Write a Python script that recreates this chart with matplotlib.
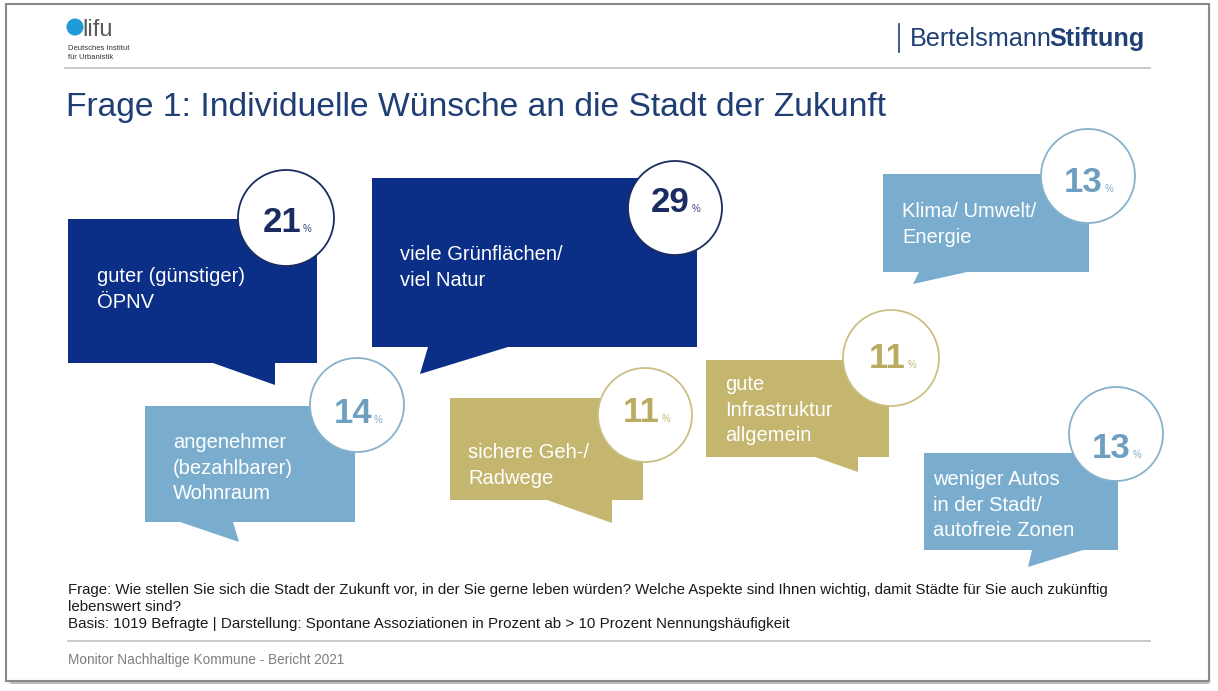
import matplotlib
matplotlib.use("Agg")
import matplotlib.pyplot as plt
from matplotlib.patches import Polygon, Circle, Rectangle

plt.rcParams['font.family'] = ['Liberation Sans', 'DejaVu Sans']

# survey answers (spontaneous associations, percent)
labels = [
    "guter (günstiger)\nÖPNV",
    "viele Grünflächen/\nviel Natur",
    "Klima/ Umwelt/\nEnergie",
    "angenehmer\n(bezahlbarer)\nWohnraum",
    "sichere Geh-/\nRadwege",
    "gute\nInfrastruktur\nallgemein",
    "weniger Autos\nin der Stadt/\nautofreie Zonen",
]
values = [21, 29, 13, 14, 11, 11, 13]
groups = ["dark", "dark", "light", "light", "gold", "gold", "light"]

title = "Frage 1: Individuelle Wünsche an die Stadt der Zukunft"
question = ("Frage: Wie stellen Sie sich die Stadt der Zukunft vor, in der Sie gerne leben würden? "
            "Welche Aspekte sind Ihnen wichtig, damit Städte für Sie auch zukünftig")
question2 = "lebenswert sind?"
basis = "Basis: 1019 Befragte | Darstellung: Spontane Assoziationen in Prozent ab > 10 Prozent Nennungshäufigkeit"
footer = "Monitor Nachhaltige Kommune - Bericht 2021"

# fill, number colour, ring colour
palette = {
    "dark": ("#0b2f86", "#1a2c62", "#1a2c62"),
    "light": ("#7aadcd", "#6e9fc0", "#86b2cc"),
    "gold": ("#c4b66e", "#b9ab62", "#cbbf84"),
}

# bubble geometry in pixels: box, tail, ring, text start, number baseline
layout = [
    dict(box=(68, 219, 317, 363), tail=[(213, 363), (275, 385), (275, 363)], circ=(286, 218, 48), tx=97, ty=282, nb=232),
    dict(box=(372, 178, 697, 347), tail=[(428, 347), (420, 374), (508, 347)], circ=(675, 208, 47), tx=400, ty=260, nb=212),
    dict(box=(883, 174, 1089, 272), tail=[(919, 272), (913, 284), (967, 272)], circ=(1088, 176, 47), tx=902, ty=217, nb=192),
    dict(box=(145, 406, 355, 522), tail=[(180, 522), (239, 542), (233, 522)], circ=(357, 405, 47), tx=173, ty=448, nb=423),
    dict(box=(450, 398, 643, 500), tail=[(547, 500), (612, 523), (612, 500)], circ=(645, 415, 47), tx=468, ty=458, nb=422),
    dict(box=(706, 360, 889, 457), tail=[(815, 457), (858, 472), (858, 457)], circ=(891, 358, 48), tx=725, ty=390, nb=368),
    dict(box=(924, 453, 1118, 550), tail=[(1032, 550), (1028, 567), (1083, 550)], circ=(1116, 434, 47), tx=933, ty=485, nb=458),
]

fig = plt.figure(figsize=(12.18, 6.91), dpi=100)
ax = fig.add_axes([0, 0, 1, 1])
ax.set_xlim(0, 1218)
ax.set_ylim(691, 0)
ax.axis("off")

# slide frame with a soft shadow
for i, a in enumerate([0.10, 0.14, 0.18, 0.22]):
    ax.add_patch(Rectangle((8 + i, 7 + i), 1203 - 2 * i, 677 - i, facecolor="#808080", alpha=a, lw=0))
ax.add_patch(Rectangle((6, 4), 1203, 677, facecolor="white", edgecolor="#8a8a8a", lw=1.5))

# header
ax.add_patch(Circle((75, 27), 8.5, color="#1e9ad6", lw=0))
ax.text(82, 36, "lifu", fontsize=17, color="#595959", va="baseline")
ax.text(68, 50, "Deutsches Institut", fontsize=5.5, color="#333333", va="baseline")
ax.text(68, 59, "für Urbanistik", fontsize=5.5, color="#333333", va="baseline")
ax.plot([899, 899], [24, 52], color="#1f3f75", lw=1.2)
bert = ax.text(910, 46, "Bertelsmann", fontsize=18.2, color="#1f3f75", va="baseline")
stift = ax.text(0, 46, "Stiftung", fontsize=18.2, color="#1f3f75", va="baseline", fontweight="bold")
ax.plot([65, 1150], [68, 68], color="#c0c0c0", lw=1.2)

t_title = ax.text(66, 116, title, fontsize=24, color="#1f3e74", va="baseline")

# bubbles
for lab, val, grp, lo in zip(labels, values, groups, layout):
    fill, numc, ringc = palette[grp]
    x0, y0, x1, y1 = lo["box"]
    ax.add_patch(Rectangle((x0, y0), x1 - x0, y1 - y0, facecolor=fill, lw=0))
    ax.add_patch(Polygon(lo["tail"], closed=True, facecolor=fill, lw=0))
    cx, cy, r = lo["circ"]
    ax.add_patch(Circle((cx, cy), r, facecolor="white", edgecolor=ringc, lw=1.3, zorder=3))
    ax.text(cx + 15, lo["nb"], str(val), fontsize=25, fontweight="bold", color=numc,
            ha="right", va="baseline", zorder=4)
    ax.text(cx + 17, lo["nb"], "%", fontsize=7, color=numc, alpha=0.85,
            ha="left", va="baseline", zorder=4)
    for i, line in enumerate(lab.split("\n")):
        ax.text(lo["tx"], lo["ty"] + i * 25.5, line, fontsize=14.5, color="white", va="baseline")

# notes
t_q = ax.text(68, 594, question, fontsize=10, color="#1a1a1a", va="baseline")
t_q2 = ax.text(68, 611, question2, fontsize=10, color="#1a1a1a", va="baseline")
t_b = ax.text(68, 628, basis, fontsize=10, color="#1a1a1a", va="baseline")
ax.plot([68, 1150], [641, 641], color="#c0c0c0", lw=1.2)
t_f = ax.text(68, 664, footer, fontsize=9, color="#7f7f7f", va="baseline")

# fit long texts to the widths seen on the slide
fig.canvas.draw()
rend = fig.canvas.get_renderer()
for t, w in [(t_title, 819), (t_q, 1042), (t_b, 722), (t_f, 277)]:
    bb = t.get_window_extent(rend)
    t.set_fontsize(t.get_fontsize() * w / bb.width)
t_q2.set_fontsize(t_q.get_fontsize())
fig.canvas.draw()
bb = bert.get_window_extent(rend)
stift.set_x(bb.x1 - 3)

fig.savefig("out.png", dpi=100)
